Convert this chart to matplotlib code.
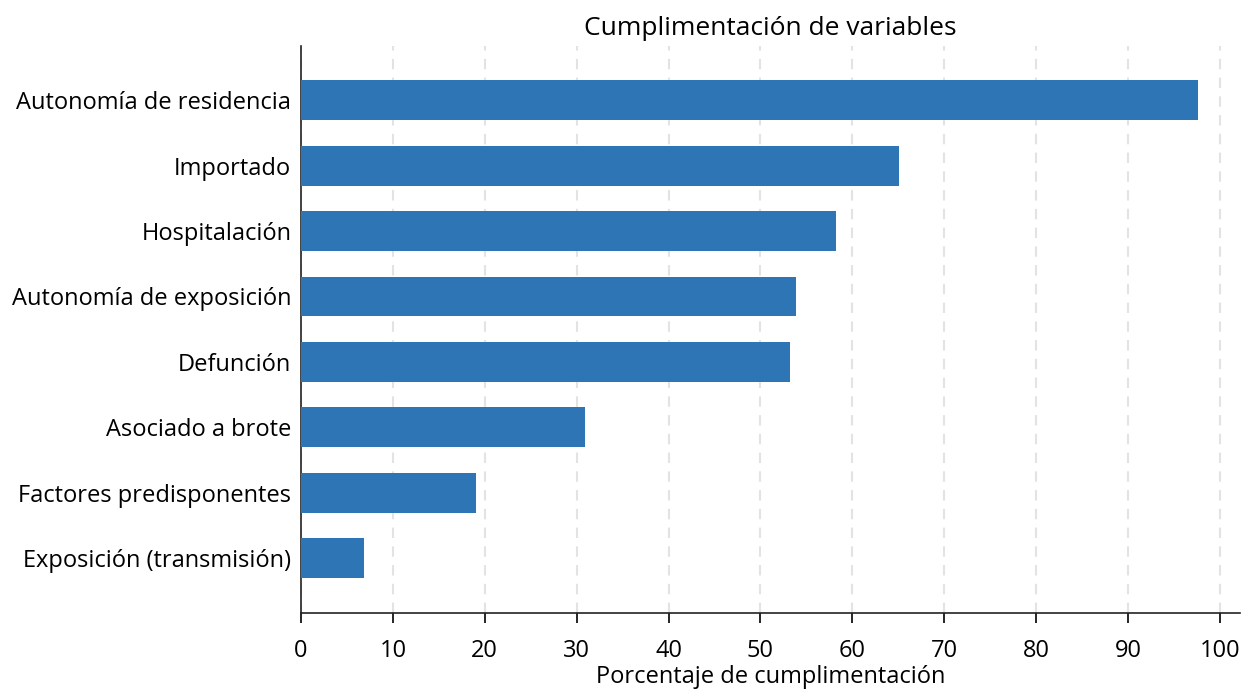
import matplotlib
matplotlib.use("Agg")
import matplotlib.pyplot as plt

categories = [
    "Exposición (transmisión)",
    "Factores predisponentes",
    "Asociado a brote",
    "Defunción",
    "Autonomía de exposición",
    "Hospitalación",
    "Importado",
    "Autonomía de residencia",
]
values = [6.9, 19.0, 30.9, 53.2, 53.9, 58.2, 65.1, 97.6]
xticks = list(range(0, 101, 10))

plt.rcParams["font.family"] = ["Open Sans", "DejaVu Sans"]

fig = plt.figure(figsize=(12.43, 6.93), dpi=100)
ax = fig.add_axes([301 / 1243, 80 / 693, 939 / 1243, 567 / 693])

ax.barh(range(len(categories)), values, height=0.61, color="#2E75B6", zorder=3)
ax.set_yticks(range(len(categories)))
ax.set_yticklabels(categories, fontsize=17)
ax.tick_params(axis="y", length=0, pad=7)

ax.set_xlim(0, 102.2)
ax.set_ylim(-0.84, 7.83)
ax.set_xticks(xticks)
ax.tick_params(axis="x", labelsize=17, length=7, width=1.2, direction="out", pad=12)
ax.xaxis.grid(True, linestyle=(0, (5, 4)), color="#e3e3e3", linewidth=1.5, zorder=0)

for side in ["top", "right"]:
    ax.spines[side].set_visible(False)
for side in ["left", "bottom"]:
    ax.spines[side].set_linewidth(1.2)
    ax.spines[side].set_color("#222222")

ax.set_title("Cumplimentación de variables", fontsize=19, pad=8)
ax.set_xlabel("Porcentaje de cumplimentación", fontsize=17, labelpad=1)

fig.savefig("out.png", dpi=100)
